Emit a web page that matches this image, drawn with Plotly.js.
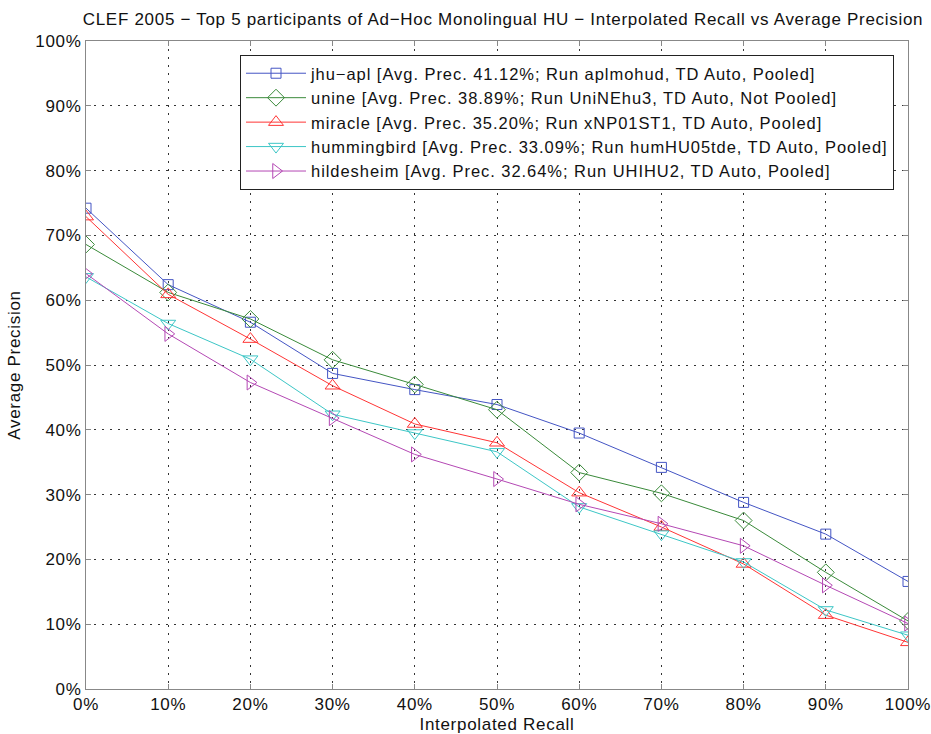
<!DOCTYPE html>
<html>
<head>
<meta charset="utf-8">
<script src="https://cdn.plot.ly/plotly-3.0.1.min.js"></script>
<style>
html,body{margin:0;padding:0;background:#fff;}
#chart{width:931px;height:734px;}
svg text{letter-spacing:0.7px;}
svg text.legendtext{letter-spacing:0.95px;}
</style>
</head>
<body>
<div id="chart"></div>
<script>
// Interpolated recall levels (%)
const recall = [0, 10, 20, 30, 40, 50, 60, 70, 80, 90, 100];

// Average precision (%) per participant
const jhuApl      = [74.2, 62.4, 56.6, 48.7, 46.2, 43.9, 39.5, 34.2, 28.8, 23.9, 16.6];
const unine       = [68.6, 61.2, 57.1, 50.8, 47.0, 43.1, 33.4, 30.2, 26.0, 18.0, 10.5];
const miracle     = [72.9, 60.9, 54.0, 46.8, 40.9, 38.0, 30.3, 25.0, 19.3, 11.4, 7.2];
const hummingbird = [63.6, 56.4, 50.9, 42.4, 39.5, 36.6, 28.1, 23.9, 19.6, 12.2, 8.3];
const hildesheim  = [64.1, 54.8, 47.3, 41.8, 36.2, 32.4, 28.5, 25.5, 22.1, 16.0, 10.1];

const seriesNames = [
  "jhu\u2212apl [Avg. Prec. 41.12%; Run aplmohud, TD Auto, Pooled]",
  "unine [Avg. Prec. 38.89%; Run UniNEhu3, TD Auto, Not Pooled]",
  "miracle [Avg. Prec. 35.20%; Run xNP01ST1, TD Auto, Pooled]",
  "hummingbird [Avg. Prec. 33.09%; Run humHU05tde, TD Auto, Pooled]",
  "hildesheim [Avg. Prec. 32.64%; Run UHIHU2, TD Auto, Pooled]"
];
const seriesValues = [jhuApl, unine, miracle, hummingbird, hildesheim];
const colors = ["#4455c4", "#3a8a3a", "#ff3535", "#3cc6c6", "#b448b4"];
const symbols = ["square-open", "diamond-open", "triangle-up-open", "triangle-down-open", "triangle-right-open"];
const sizes = [10, 13, 13, 13, 13];

const FONT = "Liberation Sans, Arial, Helvetica, sans-serif";

const traces = seriesValues.map((vals, i) => ({
  type: "scatter",
  mode: "lines+markers",
  x: recall,
  y: vals,
  name: seriesNames[i],
  line: {color: colors[i], width: 1},
  marker: {symbol: symbols[i], size: sizes[i], color: colors[i], line: {width: 1, color: colors[i]}}
}));

const axisCommon = {
  range: [0, 100],
  dtick: 10,
  tick0: 0,
  ticksuffix: "%",
  showgrid: true,
  gridcolor: "#333",
  griddash: "1.5px,6.5px",
  gridwidth: 1,
  zeroline: false,
  showline: true,
  linecolor: "#888",
  linewidth: 1,
  mirror: "ticks",
  ticks: "inside",
  ticklen: 5,
  tickcolor: "#888",
  tickfont: {family: FONT, size: 17, color: "#111"},
  ticklabeloverflow: "allow",
  fixedrange: true
};

const layout = {
  width: 931,
  height: 734,
  margin: {l: 86, r: 23, t: 41, b: 45},
  paper_bgcolor: "#fff",
  plot_bgcolor: "#fff",
  font: {family: FONT, color: "#111"},
  title: {
    text: "CLEF 2005 \u2212 Top 5 participants of Ad\u2212Hoc Monolingual HU \u2212 Interpolated Recall vs Average Precision",
    font: {family: FONT, size: 17, color: "#111"},
    x: (503 - 86) / 822, xref: "paper", xanchor: "center",
    y: 1 - 19/734, yref: "container", yanchor: "middle"
  },
  xaxis: Object.assign({}, axisCommon, {
    title: {text: "Interpolated Recall", font: {family: FONT, size: 17, color: "#111"}, standoff: 12}
  }),
  yaxis: Object.assign({}, axisCommon, {
    title: {text: "Average Precision", font: {family: FONT, size: 17, color: "#111"}, standoff: 10}
  }),
  showlegend: true,
  legend: {
    x: (240 - 86) / 822, xanchor: "left",
    y: (689 - 55) / 648, yanchor: "top",
    bgcolor: "#fff",
    bordercolor: "#222",
    borderwidth: 1,
    font: {family: FONT, size: 16.5, color: "#111"},
    tracegroupgap: 0,
    itemwidth: 60
  }
};

Plotly.newPlot("chart", traces, layout, {displayModeBar: false, staticPlot: true});
</script>
</body>
</html>
